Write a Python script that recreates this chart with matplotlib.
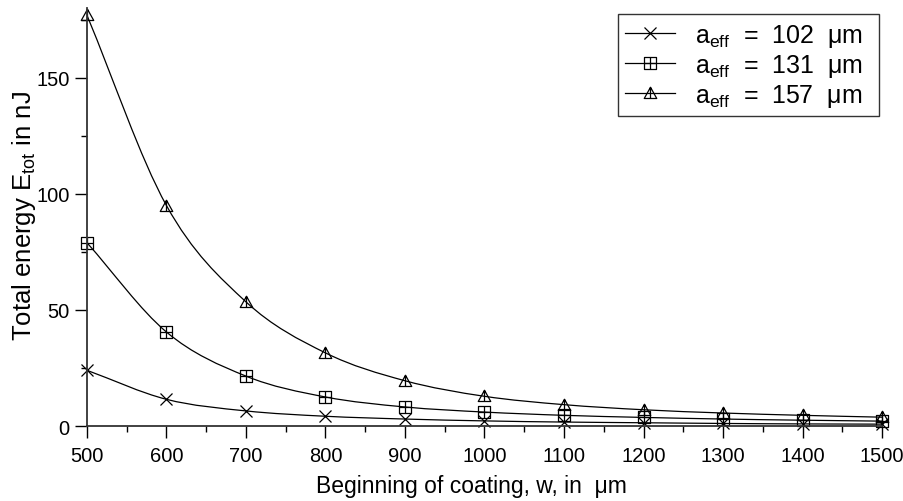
import matplotlib.pyplot as plt
import numpy as np
from matplotlib.path import Path
from matplotlib.patches import PathPatch
from matplotlib.lines import Line2D
from matplotlib.ticker import MultipleLocator

plt.rcParams['font.family'] = ['Liberation Sans', 'DejaVu Sans']
plt.rcParams['mathtext.fontset'] = 'custom'
plt.rcParams['mathtext.rm'] = 'Liberation Sans'
plt.rcParams['mathtext.it'] = 'Liberation Sans:italic'

# data
w = [500, 600, 700, 800, 900, 1000, 1100, 1200, 1300, 1400, 1500]
e_102 = [24, 11.5, 6.5, 4.2, 3.0, 2.2, 1.7, 1.4, 1.1, 0.9, 0.8]
e_131 = [79, 40.5, 21.5, 12.5, 8.2, 6.0, 4.6, 3.7, 3.0, 2.5, 2.1]
e_157 = [177, 95, 53.5, 31.5, 19.5, 12.8, 9.2, 7.0, 5.6, 4.6, 3.8]
labels = [r'$\mathregular{a_{eff}}$  =  102  μm  ',
          r'$\mathregular{a_{eff}}$  =  131  μm  ',
          r'$\mathregular{a_{eff}}$  =  157  μm  ']

# custom markers
sq_plus = Path([(-1, -1), (1, -1), (1, 1), (-1, 1), (-1, -1),
                (0, -1), (0, 1), (-1, 0), (1, 0)],
               [1, 2, 2, 2, 79, 1, 2, 1, 2])
tri_bar = Path([(-1, -0.8), (1, -0.8), (0, 1), (-1, -0.8), (0, -0.8), (0, 1)],
               [1, 2, 2, 79, 1, 2])
markers = ['x', sq_plus, tri_bar]
msizes = [8, 8, 9]


def smooth_path(x, y):
    # Catmull-Rom curve through the points, drawn as cubic Bezier segments
    p = np.column_stack([x, y]).astype(float)
    n = len(p)
    m = np.zeros_like(p)
    m[1:-1] = (p[2:] - p[:-2]) / 2
    m[0] = p[1] - p[0]
    m[-1] = p[-1] - p[-2]
    verts = [p[0]]
    codes = [Path.MOVETO]
    for i in range(n - 1):
        verts += [p[i] + m[i] / 3, p[i + 1] - m[i + 1] / 3, p[i + 1]]
        codes += [Path.CURVE4] * 3
    return Path(verts, codes)


fig = plt.figure(figsize=(9.04, 5.02), dpi=100)
ax = fig.add_axes([0.0962, 0.1494, 0.8795, 0.832])

handles = []
for e, mk, ms, lab in zip([e_102, e_131, e_157], markers, msizes, labels):
    ax.add_patch(PathPatch(smooth_path(w, e), fill=False, lw=0.9, color='black'))
    ax.plot(w, e, linestyle='none', marker=mk, ms=ms, mfc='none',
            mec='black', mew=0.9, clip_on=False)
    handles.append(Line2D([], [], color='black', lw=0.9, marker=mk, ms=ms,
                          mfc='none', mec='black', mew=0.9, label=lab))

ax.set_xlim(500, 1500)
ax.set_ylim(0, 180)
ax.set_xticks(range(500, 1501, 100))
ax.set_yticks([0, 50, 100, 150])
ax.xaxis.set_minor_locator(MultipleLocator(50))
ax.yaxis.set_minor_locator(MultipleLocator(25))
ax.tick_params(which='major', length=8.5, width=1, labelsize=14.5, direction='out')
ax.tick_params(which='minor', length=4.5, width=1, direction='out')
ax.tick_params(axis='x', pad=6)
ax.tick_params(axis='y', pad=4)
for s in ['top', 'right']:
    ax.spines[s].set_visible(False)
for s in ['left', 'bottom']:
    ax.spines[s].set_linewidth(1.3)
    ax.spines[s].set_color('#333333')

ax.set_xlabel('Beginning of coating, w, in  μm', fontsize=16.5, va='baseline')
ax.set_ylabel(r'Total energy E$_{\mathregular{tot}}$ in nJ', fontsize=18.5)
ax.xaxis.set_label_coords(0.484, -0.158)
ax.yaxis.set_label_coords(-0.0616, 0.505)

leg = ax.legend(handles=handles, loc='upper right',
                bbox_to_anchor=(879 / 904, 1 - 15 / 502),
                bbox_transform=fig.transFigure,
                fontsize=18, frameon=True, fancybox=False, edgecolor='black',
                handlelength=2.0, handletextpad=0.8, borderpad=0.3,
                labelspacing=0.12, borderaxespad=0)
leg.get_frame().set_linewidth(1.0)

fig.savefig('out.png', dpi=100)
